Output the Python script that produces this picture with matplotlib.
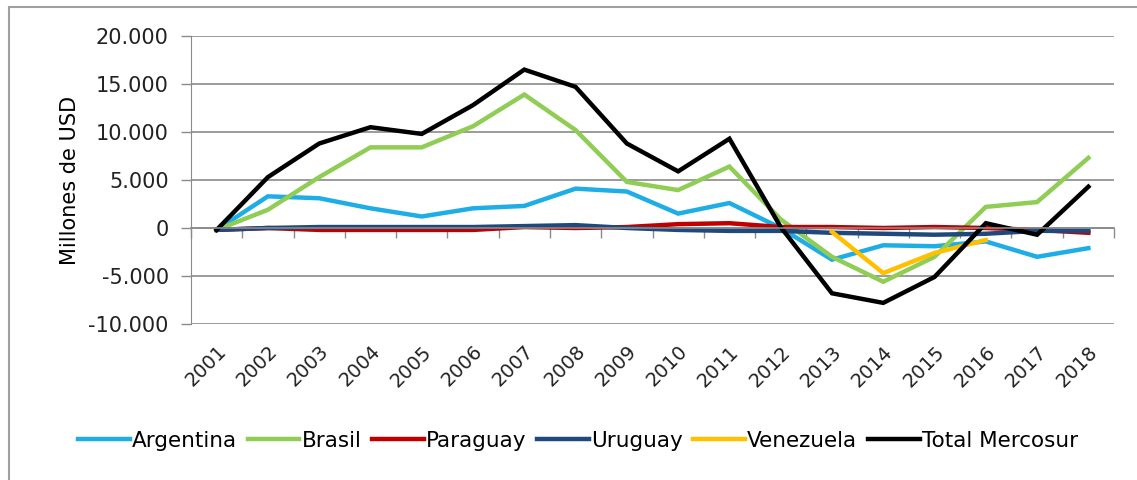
import numpy as np
import matplotlib
matplotlib.use('Agg')
import matplotlib.pyplot as plt
from matplotlib.patches import Rectangle

years = [str(y) for y in range(2001, 2019)]

argentina = [-200, 3300, 3100, 2050, 1200, 2050, 2300, 4100, 3800, 1500, 2600, 0,
             -3300, -1800, -1900, -1400, -3000, -2100]
brasil = [-200, 1900, 5300, 8400, 8400, 10600, 13900, 10200, 4800, 3950, 6400, 900,
          -3000, -5600, -3000, 2200, 2700, 7300]
paraguay = [-200, 0, -200, -200, -200, -200, 100, 0, 100, 400, 500, 100,
            100, 0, 100, 0, -200, -500]
uruguay = [-200, 0, 100, 100, 100, 100, 200, 300, 0, -200, -300, -300,
           -500, -600, -700, -600, -300, -300]
venezuela = [np.nan] * 12 + [-400, -4700, -2600, -1250, np.nan, np.nan]
total = [-200, 5300, 8800, 10500, 9800, 12800, 16500, 14700, 8800, 5900, 9300, 100,
         -6800, -7800, -5100, 500, -700, 4300]

series = [("Argentina", argentina, "#1fade6"),
          ("Brasil", brasil, "#8fcd55"),
          ("Paraguay", paraguay, "#c00000"),
          ("Uruguay", uruguay, "#1f497d"),
          ("Venezuela", venezuela, "#ffc000"),
          ("Total Mercosur", total, "#000000")]

fig = plt.figure(figsize=(11.37, 4.8), dpi=100)
ax = fig.add_axes([191/1137, 1-324/480, (1114-191)/1137, (324-36)/480])

x = np.arange(len(years))
for name, vals, col in series:
    ax.plot(x, vals, color=col, lw=3.2, label=name, solid_joinstyle='miter')

ax.set_xlim(-0.5, len(years) - 0.5)
ax.set_ylim(-10000, 20000)
ax.set_yticks(range(-10000, 20001, 5000))
ax.set_yticklabels([f"{v:,}".replace(",", ".") for v in range(-10000, 20001, 5000)],
                   fontsize=15, color='#222222')
ax.yaxis.grid(True, color='#8a8a8a', lw=1.2)
ax.set_axisbelow(True)
ax.tick_params(axis='y', length=7, width=1, color='#8a8a8a', pad=9)
for s in ['top', 'right']:
    ax.spines[s].set_visible(False)
ax.spines['left'].set_color('#8a8a8a')
ax.spines['bottom'].set_position(('data', 0))
ax.spines['bottom'].set_color('#8a8a8a')
ax.spines['bottom'].set_linewidth(1.2)
ax.set_xticks(np.arange(-0.5, len(years)))
ax.set_xticklabels([])
ax.tick_params(axis='x', length=7, width=1, color='#8a8a8a')

sec = ax.secondary_xaxis('bottom')
sec.set_xticks(x)
sec.set_xticklabels(years, rotation=45, ha='right', rotation_mode='anchor',
                    fontsize=14, color='#222222')
sec.tick_params(length=0, pad=13)
sec.spines['bottom'].set_visible(False)

ax.set_ylabel("Millones de USD", fontsize=15, labelpad=6)

fig.legend(loc='center', bbox_to_anchor=(578/1137, 1-441/480), ncol=6, frameon=False,
           prop={'size': 15.5},
           handlelength=2.4, handletextpad=0.1, columnspacing=0.5)

fig.patches.append(Rectangle((9/1137, -0.1), 1.2, 1.1 - 7/480, transform=fig.transFigure,
                             fill=False, edgecolor='#a0a0a0', lw=1.5))

fig.savefig("out.png", dpi=100)
